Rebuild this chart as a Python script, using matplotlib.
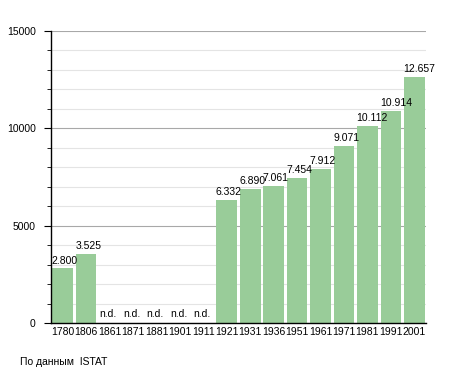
import matplotlib
matplotlib.use('Agg')
import matplotlib.pyplot as plt
from matplotlib.ticker import MultipleLocator

# Données
years = ["1780", "1806", "1861", "1871", "1881", "1901", "1911", "1921",
         "1931", "1936", "1951", "1961", "1971", "1981", "1991", "2001"]
population = [2800, 3525, None, None, None, None, None, 6332,
              6890, 7061, 7454, 7912, 9071, 10112, 10914, 12657]
source_text = "По данным  ISTAT"

plt.rcParams['font.family'] = ['Liberation Sans', 'DejaVu Sans']

fig = plt.figure(figsize=(4.55, 3.73), dpi=100)
ax = fig.add_axes([51 / 455, 50 / 373, 375 / 455, 292 / 373])

bar_color = '#99cc99'
width = 0.88
for i, v in enumerate(population):
    if v is None:
        ax.text(i - width / 2 + 0.02, 180, "n.d.", fontsize=7.5, ha='left', va='bottom')
    else:
        ax.bar(i, v, width=width, color=bar_color, zorder=2)
        label = f"{v:,}".replace(",", ".")
        ax.text(i - width / 2 - 0.02, v + 150, label, fontsize=7.5, ha='left', va='bottom', zorder=3)

ax.set_xlim(-0.5, len(years) - 0.5)
ax.set_ylim(0, 15000)
ax.set_xticks(range(len(years)))
ax.set_xticklabels(years, fontsize=7.5)
ax.tick_params(axis='x', length=0, pad=3)

ax.yaxis.set_major_locator(MultipleLocator(5000))
ax.yaxis.set_minor_locator(MultipleLocator(1000))
ax.tick_params(axis='y', which='major', length=5, labelsize=7.5, pad=6)
ax.tick_params(axis='y', which='minor', length=3)
ax.grid(axis='y', which='major', color='#a8a8a8', linewidth=0.8, zorder=0)
ax.grid(axis='y', which='minor', color='#e4e4e4', linewidth=0.8, zorder=0)
ax.set_axisbelow(True)

ax.spines['top'].set_visible(False)
ax.spines['right'].set_visible(False)
ax.spines['left'].set_linewidth(1.0)
ax.spines['bottom'].set_linewidth(1.0)

fig.text(20 / 455, 1 - 362 / 373, source_text, fontsize=7.5, ha='left', va='center')

fig.savefig("out.png", dpi=100)
